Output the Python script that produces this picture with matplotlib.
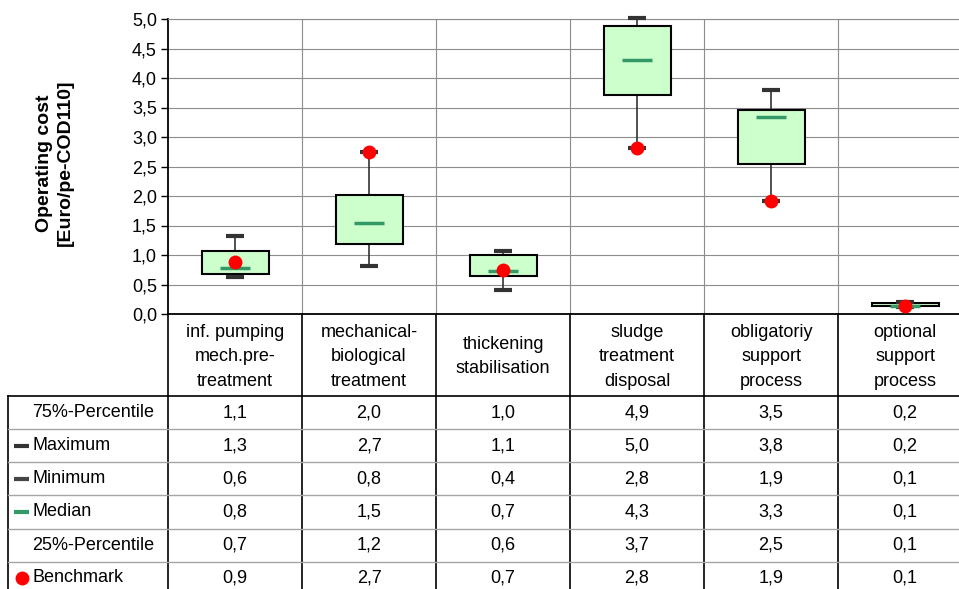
import matplotlib
matplotlib.use("Agg")
import matplotlib.pyplot as plt
from matplotlib.patches import Rectangle

plt.rcParams['font.family'] = ['Liberation Sans', 'DejaVu Sans']

categories = ["inf. pumping\nmech.pre-\ntreatment",
              "mechanical-\nbiological\ntreatment",
              "thickening\nstabilisation",
              "sludge\ntreatment\ndisposal",
              "obligatoriy\nsupport\nprocess",
              "optional\nsupport\nprocess"]
q75 = [1.06, 2.02, 1.00, 4.88, 3.46, 0.18]
maximum = [1.32, 2.74, 1.07, 5.02, 3.80, 0.21]
minimum = [0.62, 0.82, 0.41, 2.82, 1.92, 0.12]
median = [0.78, 1.54, 0.73, 4.30, 3.34, 0.14]
q25 = [0.68, 1.18, 0.64, 3.72, 2.54, 0.14]
benchmark = [0.88, 2.74, 0.74, 2.82, 1.92, 0.14]
row_labels = ["75%-Percentile", "Maximum", "Minimum", "Median", "25%-Percentile", "Benchmark"]
yticks = [0.0, 0.5, 1.0, 1.5, 2.0, 2.5, 3.0, 3.5, 4.0, 4.5, 5.0]

W, H = 959, 589
FS = 13
fig = plt.figure(figsize=(W / 100, H / 100), dpi=100)

col_w = 134.0
x0_px, right_px = 168, 972
top_px, base_px = 19, 314
ax = fig.add_axes([x0_px / W, 1 - base_px / H, (right_px - x0_px) / W, (base_px - top_px) / H])
n = len(categories)
ax.set_xlim(-0.5, n - 0.5)
ax.set_ylim(0, 5)
ax.set_yticks(yticks)
ax.set_yticklabels([f"{v:.1f}".replace('.', ',') for v in yticks], fontsize=FS)
ax.set_xticks([])
ax.tick_params(axis='y', length=5, width=1, pad=3, color='black')
ax.grid(axis='y', color='#8c8c8c', lw=0.8, zorder=0)
for i in range(n - 1):
    ax.axvline(i + 0.5, color='#8c8c8c', lw=0.8, zorder=0)
ax.spines['right'].set_visible(False)
ax.spines['top'].set_color('#8c8c8c')
ax.spines['top'].set_linewidth(0.8)
ax.spines['left'].set_linewidth(1.3)
ax.spines['bottom'].set_linewidth(1.3)

whisk_c = '#333333'
for i in range(n):
    ax.vlines(i, q75[i], maximum[i], color=whisk_c, lw=1.2, zorder=2, clip_on=False)
    ax.vlines(i, minimum[i], q25[i], color=whisk_c, lw=1.2, zorder=2, clip_on=False)
    ax.add_patch(Rectangle((i - 0.25, q25[i]), 0.5, q75[i] - q25[i], fc='#CCFFCC',
                           ec='black', lw=1.5, zorder=3))
    ax.hlines([maximum[i], minimum[i]], i - 0.065, i + 0.065, color=whisk_c, lw=3,
              zorder=4, clip_on=False)
    ax.hlines(median[i], i - 0.11, i + 0.11, color='#339966', lw=2.5, zorder=4)
ax.scatter(range(n), benchmark, s=100, color='#FF0000', zorder=5, linewidths=0, clip_on=False)

fig.text(55 / W, 1 - 163 / H, "Operating cost\n[Euro/pe-COD110]", rotation=90,
         ha='center', va='center', fontsize=14, fontweight='bold',
         multialignment='center', linespacing=1.25)

# data table
row_h = 33.0
n_rows = len(row_labels)
hdr = 2.5
tab_bottom_px = base_px + (hdr + n_rows) * row_h
tab = fig.add_axes([0, 1 - tab_bottom_px / H, right_px / W, (tab_bottom_px - base_px) / H])
tab.set_xlim(-0.5 - x0_px / col_w, n - 0.5)
tab.set_ylim(hdr + n_rows, 0)
tab.axis('off')
lab_left = -0.5 - (x0_px - 8) / col_w
bottom = hdr + n_rows
for i in range(n):
    tab.plot([i - 0.5, i - 0.5], [0, bottom], color='black', lw=1.2, clip_on=False)
tab.plot([lab_left, lab_left], [hdr, bottom], color='black', lw=1.2, clip_on=False)
tab.plot([lab_left, n - 0.5], [hdr, hdr], color='black', lw=1.2, clip_on=False)
for r in range(1, n_rows):
    tab.plot([lab_left, n - 0.5], [hdr + r, hdr + r], color='#a6a6a6', lw=1.0, clip_on=False)

for i, c in enumerate(categories):
    tab.text(i, hdr / 2 + 0.05, c, ha='center', va='center', fontsize=FS, linespacing=1.55)

series = [q75, maximum, minimum, median, q25, benchmark]
for r, (lab, vals) in enumerate(zip(row_labels, series)):
    y = hdr + r + 0.5
    for i, v in enumerate(vals):
        tab.text(i, y, f"{v:.1f}".replace('.', ','), ha='center', va='center', fontsize=FS)
    tab.text(-0.5 - (x0_px - 32) / col_w, y, lab, ha='left', va='center', fontsize=FS)

mk_x0 = -0.5 - (x0_px - 14) / col_w
mk_x1 = -0.5 - (x0_px - 29) / col_w
tab.plot([mk_x0, mk_x1], [hdr + 1.5] * 2, color='#333333', lw=3, solid_capstyle='butt')
tab.plot([mk_x0, mk_x1], [hdr + 2.5] * 2, color='#444444', lw=3, solid_capstyle='butt')
tab.plot([mk_x0, mk_x1], [hdr + 3.5] * 2, color='#339966', lw=3, solid_capstyle='butt')
tab.scatter([(mk_x0 + mk_x1) / 2], [hdr + 5.5], s=100, color='#FF0000', linewidths=0, clip_on=False)

fig.savefig("out.png", dpi=100)
